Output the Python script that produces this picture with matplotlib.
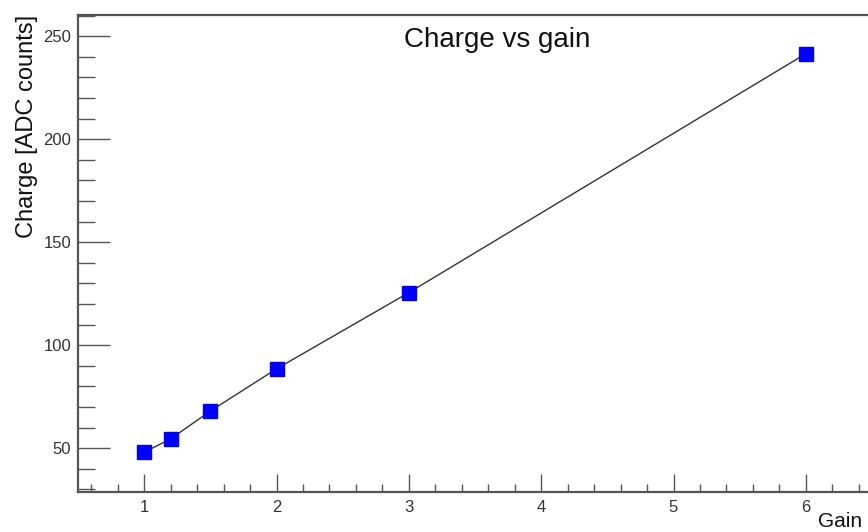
import numpy as np
import matplotlib.pyplot as plt
from matplotlib.ticker import MultipleLocator

plt.rcParams['font.family'] = ['Liberation Sans', 'DejaVu Sans']

# gain settings and measured charge
gain = [1, 1.2, 1.5, 2, 3, 6]
charge = [48, 54.5, 68, 88.5, 125.5, 241.5]

fig = plt.figure(figsize=(8.68, 5.32), dpi=100)
ax = fig.add_axes([0.0899, 0.0752, 0.9147, 0.8966])

ax.plot(gain, charge, color='#333333', lw=1.0, zorder=2)
ax.plot(gain, charge, 's', color='#0000ff', ms=10.5, mec='#0000ff', zorder=3)

ax.set_xlim(0.5, 6.5)
ax.set_ylim(28.7, 260.3)

ax.xaxis.set_major_locator(MultipleLocator(1))
ax.xaxis.set_minor_locator(MultipleLocator(0.2))
ax.yaxis.set_major_locator(MultipleLocator(50))
ax.yaxis.set_minor_locator(MultipleLocator(10))

ax.tick_params(axis='both', which='both', direction='in', color='#555555',
               labelsize=12, labelcolor='#333333', top=False, right=False)
ax.tick_params(axis='x', which='major', length=13, width=1.0, pad=6)
ax.tick_params(axis='x', which='minor', length=6, width=1.0)
ax.tick_params(axis='y', which='major', length=23, width=1.0, pad=5)
ax.tick_params(axis='y', which='minor', length=12, width=1.0)

for s in ax.spines.values():
    s.set_color('#555555')
    s.set_linewidth(1.6)

ax.set_ylabel('Charge [ADC counts]', fontsize=17, loc='top', labelpad=4,
              color='#111111')
fig.text(862 / 868, 1 - 512 / 532, 'Gain', ha='right', va='top',
         fontsize=15, color='#111111')
ax.text(0.528, 0.948, 'Charge vs gain', transform=ax.transAxes, ha='center',
        va='center', fontsize=20, color='#111111')

fig.savefig('out.png', dpi=100)
